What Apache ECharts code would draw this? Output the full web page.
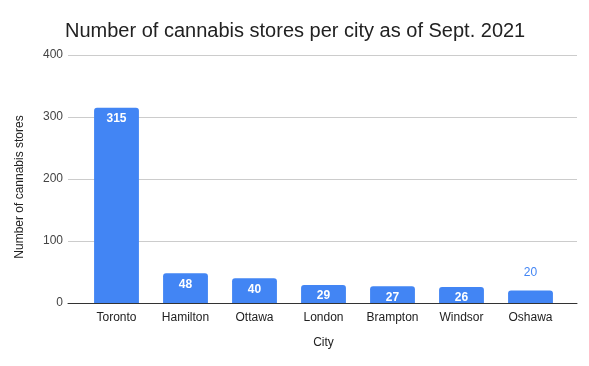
<!DOCTYPE html>
<html><head><meta charset="utf-8">
<script src="https://cdn.jsdelivr.net/npm/echarts@6/dist/echarts.min.js"></script>
<style>html,body{margin:0;padding:0;background:#fff}#c{width:589px;height:366px}</style>
</head><body><div id="c"></div>
<script>
const categories = ["Toronto","Hamilton","Ottawa","London","Brampton","Windsor","Oshawa"];
const stores = [315,48,40,29,27,26,20];
const yTicks = [0,100,200,300,400];

const blue = '#4285F4';
const font = 'Liberation Sans, Arial, sans-serif';
const data = stores.map((v,i)=>{
  const inside = v >= 25;
  return {
    value: v,
    label: inside ? {position:'insideTop', distance:5, color:'#fff', fontWeight:'bold'} :
                    {position:'top', distance:12, color:blue, fontWeight:'normal'}
  };
});

const chart = echarts.init(document.getElementById('c'), null, {renderer:'canvas'});
chart.setOption({
  animation:false,
  title:{text:'Number of cannabis stores per city as of Sept. 2021', left:60, top:16,
    textStyle:{fontFamily:font, fontSize:20, fontWeight:'normal', color:'#222'}},
  grid:[
    {left:68, right:12, top:55, bottom:63},
    {left:82, right:24, top:55, bottom:63}
  ],
  xAxis:[
    {gridIndex:0, type:'value', min:0, max:1, show:true, axisLine:{show:true, onZero:false, lineStyle:{color:'#333', width:1}},
      axisTick:{show:false}, axisLabel:{show:false}, splitLine:{show:false}},
    {gridIndex:1, type:'category', data:categories, name:'City', nameLocation:'middle', nameGap:34,
      nameTextStyle:{fontFamily:font, fontSize:12, color:'#222'},
      axisTick:{show:false}, axisLine:{show:false},
      axisLabel:{fontFamily:font, fontSize:12, color:'#222', margin:9}}
  ],
  yAxis:[
    {gridIndex:0, type:'value', min:yTicks[0], max:yTicks[yTicks.length-1], interval:100,
      name:'Number of cannabis stores', nameLocation:'middle', nameGap:42,
      nameTextStyle:{fontFamily:font, fontSize:12, color:'#222', padding:[0,16,0,0]},
      axisLine:{show:false}, axisTick:{show:false},
      splitLine:{lineStyle:{color:'#ccc'}},
      axisLabel:{fontFamily:font, fontSize:12, color:'#444', margin:5}},
    {gridIndex:1, type:'value', min:yTicks[0], max:yTicks[yTicks.length-1], interval:100, show:false}
  ],
  series:[{type:'bar', xAxisIndex:1, yAxisIndex:1, data:data, barWidth:'65%', z:1,
    itemStyle:{color:blue, borderRadius:[3,3,0,0]},
    label:{show:true, fontFamily:font, fontSize:12}}]
});
</script></body></html>
